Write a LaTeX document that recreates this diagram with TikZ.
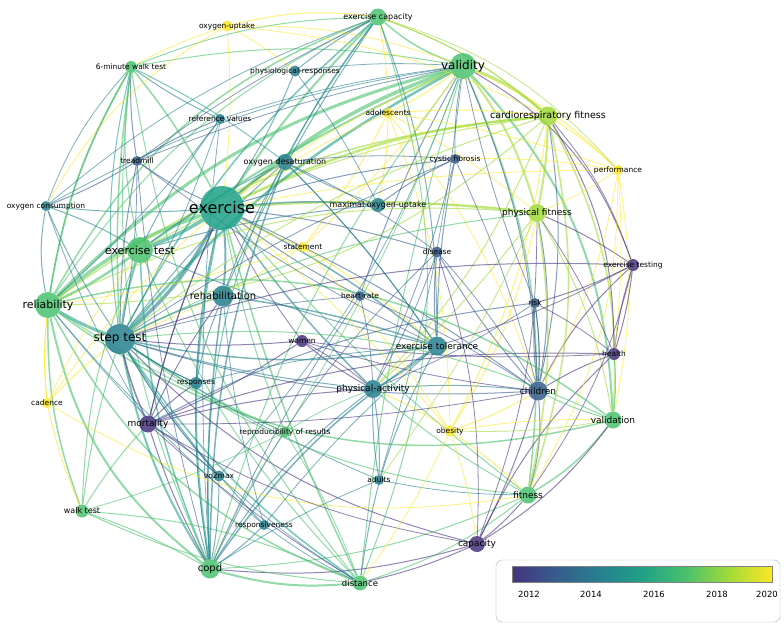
\documentclass[tikz,border=0pt]{standalone}
\usepackage{fontspec}
\setmainfont{DejaVu Sans}
\usetikzlibrary{backgrounds}
\definecolor{yA}{HTML}{46337E}
\definecolor{yB}{HTML}{365C8D}
\definecolor{yC}{HTML}{277F8E}
\definecolor{yD}{HTML}{1FA187}
\definecolor{yE}{HTML}{4AC16D}
\definecolor{yF}{HTML}{A0DA39}
\definecolor{yG}{HTML}{FDE725}
\begin{document}
\begin{tikzpicture}[x=1pt, y=-1pt,
    kw/.style = {circle, inner sep=0pt, fill=#1, fill opacity=0.85},
    lbl/.style = {inner sep=0pt, font=\fontsize{7.5}{8}\selectfont},
    link/.style = {draw=#1, draw opacity=0.6, line width=0.6pt}]
  \useasboundingbox (0,0) rectangle (784,630);
  % keywords: name/x/y/size/colour/text/font size
  \foreach \n/\x/\y/\s/\c/\t/\f in {
      ec/378/17/17/yE/exercise capacity/8,
      ou/227/26/11/yG/oxygen-uptake/7.5,
      va/463/66/26/yE/validity/12,
      mw/131/67/12/yE/6-minute walk test/7.5,
      pr/295/71/11/yC/physiological-responses/7.5,
      ad/388/113/10/yG/adolescents/7.5,
      cf/548/116/19/yF/cardiorespiratory fitness/9.5,
      rv/220/119/10/yC/reference values/7.5,
      tm/137/161/10/yB/treadmill/7.5,
      od/285/162/16/yC/oxygen desaturation/8,
      cy/455/159/10/yB/cystic fibrosis/7.5,
      pe/618/170/10/yG/performance/7.5,
      oc/46/206/10/yC/oxygen consumption/7.5,
      ex/222/208/44/yD/exercise/16,
      mo/378/205/14/yC/maximal oxygen-uptake/8,
      pf/537/213/18/yF/physical fitness/9,
      sm/303/247/10/yG/statement/7.5,
      di/437/252/11/yB/disease/7.5,
      et/140/250/26/yE/exercise test/11,
      ete/633/265/12/yA/exercise testing/7.5,
      re/48/305/26/yE/reliability/11,
      rh/223/296/21/yC/rehabilitation/10,
      hr/360/296/10/yB/heart-rate/7.5,
      ri/535/303/10/yB/risk/7.5,
      st/120/339/30/yC/step test/12,
      wo/302/341/12/yA/women/7.5,
      eto/437/346/19/yC/exercise tolerance/9,
      he/614/354/12/yA/health/7.5,
      rs/196/383/12/yC/responses/7.5,
      pa/373/389/18/yC/physical-activity/9,
      ch/538/391/19/yB/children/9,
      ca/47/403/10/yG/cadence/7.5,
      mr/148/424/17/yA/mortality/9,
      rr/285/432/11/yE/reproducibility of results/7.5,
      ob/450/431/11/yG/obesity/7.5,
      vl/613/420/17/yE/validation/9,
      vo/219/476/11/yC/vo2max/7.5,
      al/379/480/10/yC/adults/7.5,
      wt/82/511/13/yE/walk test/8,
      fi/528/495/17/yE/fitness/9,
      rp/264/525/10/yC/responsiveness/7.5,
      cp/477/544/16/yA/capacity/9,
      co/210/569/19/yE/copd/10,
      ds/360/583/15/yE/distance/8.5}
  {
    \node[kw=\c, minimum size=\s] (\n) at (\x,\y) {};
    \node[lbl, font=\fontsize{\f}{\f}\selectfont] (\n-t) at (\n) {\t};
  }
  \begin{scope}[on background layer]
    % links: from/to/colour/width/bend
    \foreach \a/\b/\c/\w/\k in {
        ex/va/yE/3.5/10, ex/re/yE/3.5/-10, ex/et/yD/3.5/5, ex/st/yC/3.5/10,
        ex/cf/yF/2.5/10, ex/pf/yF/2/5, ex/ec/yE/2/5, ex/mw/yE/1.5/-5,
        ex/rh/yC/2/5, ex/od/yC/1.5/5, ex/mo/yC/1.5/5, ex/co/yD/2/-10,
        ex/ds/yE/1.5/-5, ex/eto/yC/1.5/5, ex/pa/yC/1.5/-5, ex/ch/yB/1/5,
        ex/mr/yA/1/-5, ex/tm/yB/1/5, ex/oc/yC/1/5, ex/fi/yE/1/-5,
        va/re/yE/3/-15, va/cf/yF/3/10, va/pf/yF/2/10, va/st/yD/2.5/-10,
        va/et/yE/2/-5, va/ec/yE/1.5/10, va/vl/yE/2/20, va/fi/yE/1.5/15,
        va/ch/yB/1/10, va/ete/yA/1/20, va/ds/yE/1/-5, va/co/yE/1/-10,
        va/mw/yE/1/-10, va/pe/yG/1/10, va/ad/yG/1/5, va/hr/yB/1/-5,
        re/st/yD/3/-5, re/et/yE/2.5/-5, re/co/yE/2/-20, re/wt/yE/1.5/-10,
        re/mw/yE/1.5/10, re/ds/yE/1.5/-20, re/vl/yE/1.5/-25, re/ec/yE/1.5/20,
        re/ca/yG/1/-5, re/oc/yC/1/10, re/rr/yE/1/-5, re/cf/yF/1.5/15,
        st/co/yD/2/-10, st/mr/yA/1.5/-5, st/eto/yC/1.5/-10, st/rh/yC/1.5/5,
        st/et/yD/2/5, st/ds/yD/1.5/-10, st/pa/yC/1/-5, st/ch/yB/1/-10,
        st/od/yC/1/5, st/cp/yA/1/-15, st/wt/yE/1/-5, st/fi/yE/1/-15,
        st/mw/yD/1/10, st/tm/yB/1/5, st/vo/yC/1/-5, st/rs/yC/1/-5,
        et/co/yD/1.5/-10, et/ds/yE/1/-10, et/eto/yC/1/-5, et/od/yC/1/5,
        et/mo/yC/1/5, et/mw/yE/1/10, et/cf/yF/1/10, et/rv/yC/1/5,
        cf/pf/yF/2/5, cf/pe/yG/1/5, cf/ch/yB/1/10, cf/vl/yF/1.5/15,
        cf/fi/yF/1.5/15, cf/ad/yG/1/-5, cf/ec/yF/1/-10, cf/he/yA/1/15,
        pf/ch/yB/1/10, pf/vl/yF/1/10, pf/ob/yG/1/10, pf/ete/yA/1/5,
        ec/mw/yE/1/-10, ec/ou/yG/1/-10, ec/co/yD/1/-20, ec/ds/yE/1/20,
        ec/eto/yC/1/10, ec/pr/yC/1/-5, ou/mw/yG/0.8/-5, ou/pr/yG/0.8/5,
        co/ds/yE/2/-10, co/eto/yC/1.5/10, co/mr/yA/1/5, co/rh/yC/1.5/5,
        co/cp/yA/1/-10, co/wt/yE/1/-5, co/pa/yC/1/10, co/fi/yE/1/-10,
        ds/eto/yC/1/10, ds/wt/yE/1/-10, ds/fi/yE/1/-10, ds/cp/yA/1/-5,
        ch/fi/yB/1/10, ch/ob/yG/1/5, ch/he/yA/1/5, ch/ete/yA/1/10,
        ch/cp/yA/1/5, ch/pa/yC/1/-5, ch/ri/yB/1/5, ch/di/yB/1/5,
        he/ete/yA/1/5, he/vl/yE/1/5, he/cp/yA/1/-10, he/mr/yA/1/-10,
        eto/rh/yC/1.5/-5, eto/pa/yC/1/5, eto/od/yC/1/-5, eto/di/yB/1/5,
        eto/cy/yB/1/5, pa/mr/yA/1/-5, pa/ob/yG/1/5, pa/al/yC/1/5,
        pa/wo/yA/1/5, pa/fi/yE/1/-5, rh/mr/yA/1/-5, rh/od/yC/1/5,
        mo/od/yC/1/5, mo/cy/yB/1/5, mo/pf/yF/1/5, mo/ad/yG/1/-5,
        tm/oc/yB/1/5, tm/mw/yB/1/5, tm/rv/yB/1/5, oc/et/yC/1/5,
        ca/wt/yG/1/-5, ca/st/yG/1/5, mr/rs/yA/1/5, mr/vo/yA/1/5,
        sm/ex/yG/1/5, sm/eto/yG/1/5, sm/ad/yG/1/-5, ob/fi/yG/1/5,
        rr/st/yE/1/5, rr/ex/yE/1/5, rs/rh/yC/1/5, vo/co/yC/1/5,
        rp/co/yC/1/5, rp/st/yC/1/5, al/pa/yC/1/5, hr/ex/yB/1/5,
        wo/st/yA/1/5, wo/mr/yA/1/5, ri/ch/yB/1/5, ri/mr/yB/1/-10,
        cy/ex/yB/1/-5, di/ex/yB/1/-5, rv/mw/yC/1/5, pr/ex/yC/1/5,
        vl/fi/yE/1.5/10, vl/cp/yA/1/10, fi/cp/yA/1/5, ete/ri/yA/1/5,
        ec/cf/yF/1/10, ec/pe/yF/0.8/15, ec/ad/yG/0.8/5, ec/od/yC/1/-5,
        ec/st/yD/1.5/-10, ec/re/yE/1/-15, ec/rh/yC/1/-5, ec/tm/yB/0.8/-5,
        ou/cf/yG/0.8/10, ou/va/yG/0.8/10, ou/oc/yG/0.8/-15, ou/ex/yG/0.8/5,
        mw/re/yE/1.5/-10, mw/st/yE/1.5/-5, mw/co/yE/1/-15, mw/oc/yC/0.8/-10,
        mw/od/yD/1/5, mw/ds/yE/1/-15, pr/va/yC/0.8/5, pr/mo/yC/0.8/5,
        pe/pf/yG/0.8/5, pe/ch/yG/0.8/10, pe/vl/yG/0.8/10, pe/he/yG/0.8/5,
        pe/ex/yG/0.8/-5, pe/fi/yG/0.8/15, pe/cy/yG/0.8/-5, pe/ad/yG/0.8/-5,
        ad/ch/yG/0.8/10, ad/pf/yG/0.8/5, ad/ob/yG/0.8/10, ad/ex/yG/0.8/-5,
        cf/re/yF/1/20, cf/st/yF/1/-10, cf/ob/yG/1/10, cf/ete/yA/0.8/10,
        cf/pa/yF/1/10, pf/fi/yF/1.5/10, pf/re/yF/1/-15, pf/st/yE/1/-10,
        pf/he/yA/0.8/5, pf/pa/yF/1/5, pf/cp/yA/0.8/10, pf/al/yF/0.8/5,
        oc/st/yC/1/-5, oc/mr/yC/0.8/-5, oc/ec/yC/0.8/10, oc/va/yC/0.8/10,
        od/co/yC/1.5/-10, od/eto/yC/1/5, od/cy/yB/0.8/5, od/di/yB/0.8/5,
        di/pa/yB/0.8/5, di/cp/yA/0.8/10, di/ch/yB/0.8/5, di/co/yB/0.8/-10,
        hr/st/yB/0.8/-5, hr/pa/yB/0.8/5, hr/ch/yB/0.8/5, hr/co/yB/0.8/-5,
        ete/st/yA/1/-10, ete/he/yA/1/5, ete/eto/yA/0.8/5, ete/fi/yA/0.8/10,
        vl/ch/yE/1/5, vl/re/yE/1.5/-25, vl/st/yE/1/-15, vl/ob/yF/0.8/5,
        wt/mr/yE/1/5, wt/et/yE/1/10, wt/rr/yE/0.8/-5, wt/ds/yE/1/-10,
        ca/re/yG/1/5, ca/fi/yG/0.8/-20, ca/et/yG/0.8/5, ca/va/yG/0.8/15,
        mr/ch/yA/0.8/-5, mr/cp/yA/0.8/-10, mr/ds/yA/0.8/-5, mr/ex/yA/1/5,
        vo/st/yC/0.8/5, vo/re/yC/0.8/5, vo/va/yC/0.8/-10, vo/ds/yC/0.8/-5,
        al/co/yC/0.8/-5, al/fi/yC/0.8/-5, al/st/yC/0.8/5, al/va/yC/0.8/-5,
        rp/rh/yC/0.8/5, rp/eto/yC/0.8/5, rp/ds/yC/0.8/-5, rp/re/yC/0.8/5,
        rr/co/yE/0.8/-5, rr/pa/yE/0.8/5, rr/va/yE/0.8/-5, rr/ds/yE/0.8/5,
        wo/pa/yA/0.8/5, wo/ex/yA/0.8/5, wo/ch/yA/0.8/-5, wo/he/yA/0.8/-5,
        sm/re/yG/0.8/5, sm/va/yG/0.8/-5, sm/ob/yG/0.8/5, sm/st/yG/0.8/5,
        ob/cp/yG/0.8/5, ob/ex/yG/0.8/-5, ob/vl/yG/0.8/5, ob/ds/yG/0.8/5,
        rs/st/yC/1/5, rs/co/yC/0.8/-5, rs/ex/yC/1/5, rs/eto/yC/0.8/5,
        cy/pa/yB/0.8/5, cy/ch/yB/0.8/5, cy/va/yB/0.8/5, cy/st/yB/0.8/-5,
        rv/st/yC/0.8/5, rv/re/yC/0.8/5, rv/va/yC/0.8/5, rv/co/yC/0.8/-5,
        tm/st/yB/0.8/5, tm/va/yB/0.8/5, tm/eto/yB/0.8/-5, tm/co/yB/0.8/-5,
        ri/ch/yB/0.8/5, ri/pa/yB/0.8/5, ri/he/yA/0.8/5, ri/va/yB/0.8/5}
      \draw[link=\c, line width=\w pt] (\a) to[bend left=\k] (\b);
  \end{scope}
  % colour scale
  \node[draw=gray!60, rounded corners=6pt, minimum width=284pt,
        minimum height=62pt, fill=white] (legend) at (638,591) {};
  \foreach \i/\l/\r in {0/yA/yB, 1/yB/yC, 2/yC/yD, 3/yD/yE, 4/yE/yF, 5/yF/yG}
    \fill[left color=\l, right color=\r] (512+\i*43.33,566) rectangle (555.33+\i*43.33,582);
  \draw[gray] (512,566) rectangle (772,582);
  \foreach \v/\x in {2012/529, 2014/591, 2016/654, 2018/717, 2020/767}
    \node[lbl, font=\fontsize{8.5}{9}\selectfont] (s\v) at (\x,594) {\v};
\end{tikzpicture}
\end{document}
